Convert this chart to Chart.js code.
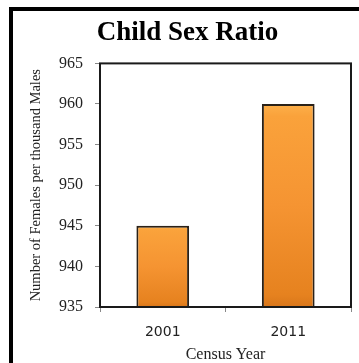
<!DOCTYPE html>
<html>
<head>
<meta charset="utf-8">
<script src="https://cdn.jsdelivr.net/npm/chart.js@4/dist/chart.umd.min.js"></script>
<style>
  html, body { margin: 0; padding: 0; background: #fff; }
  #wrap { position: relative; width: 359px; height: 363px; }
</style>
</head>
<body>
<div id="wrap"><canvas id="c" width="359" height="363"></canvas></div>
<script>
// Census years and child sex ratio (females per thousand males)
const years = ['2001', '2011'];
const ratio = [945, 960];
const yTicks = [935, 940, 945, 950, 955, 960, 965];

const SERIF = '"Liberation Serif", "Times New Roman", serif';
const SANS = '"DejaVu Sans", Verdana, sans-serif';

// Orange bar fill, lighter at each bar's top and darker towards its base
function barFill(ctx) {
  const chart = ctx.chart;
  const y = chart.scales && chart.scales.y;
  if (!chart.chartArea || !y || ctx.parsed == null) return '#F39230';
  const top = y.getPixelForValue(ctx.parsed.y);
  const base = y.getPixelForValue(y.min);
  const g = chart.ctx.createLinearGradient(0, top, 0, base);
  g.addColorStop(0, '#FDB04A');
  g.addColorStop(0.06, '#FAA23B');
  g.addColorStop(0.5, '#F59432');
  g.addColorStop(0.94, '#E6821F');
  g.addColorStop(1, '#D8761A');
  return g;
}

// Black frame around the figure and box around the plot area
const framePlugin = {
  id: 'frame',
  beforeDraw(chart) {
    const c = chart.ctx;
    c.save();
    c.fillStyle = '#fff';
    c.fillRect(0, 0, chart.width, chart.height);
    c.fillStyle = '#000';
    c.fillRect(9, 7, 4, chart.height - 7);
    c.fillRect(9, 7, chart.width - 9, 4);
    c.restore();
  },
  afterDatasetsDraw(chart) {
    const a = chart.chartArea;
    const c = chart.ctx;
    c.save();
    c.strokeStyle = '#1a1a1a';
    c.lineWidth = 2;
    c.strokeRect(a.left, a.top, a.right - a.left, a.bottom - a.top);
    c.restore();
  }
};

new Chart(document.getElementById('c'), {
  type: 'bar',
  data: {
    labels: years,
    datasets: [{
      data: ratio,
      backgroundColor: barFill,
      borderColor: '#2a2118',
      borderWidth: 2,
      borderSkipped: false,
      barPercentage: 0.42,
      categoryPercentage: 1.0
    }]
  },
  options: {
    responsive: false,
    animation: false,
    devicePixelRatio: 1,
    layout: { padding: { left: 24, right: 8, top: 0, bottom: 0 } },
    plugins: {
      legend: { display: false },
      tooltip: { enabled: false },
      title: {
        display: true,
        text: 'Child Sex Ratio',
        color: '#000',
        font: { family: SERIF, size: 27, weight: 'bold' },
        padding: { top: 17, bottom: 14 }
      }
    },
    scales: {
      x: {
        afterFit(scale) { scale.height = 56; },
        grid: { display: true, drawOnChartArea: false, drawTicks: true, tickLength: 5, color: '#888', offset: true },
        border: { display: false },
        ticks: { color: '#222', font: { family: SANS, size: 14 }, padding: 12 },
        title: {
          display: true,
          text: 'Census Year',
          color: '#222',
          font: { family: SERIF, size: 16, lineHeight: 1 },
          padding: { top: 0, bottom: 0 }
        }
      },
      y: {
        min: 935,
        max: 965,
        afterBuildTicks(scale) { scale.ticks = yTicks.map(v => ({ value: v })); },
        afterFit(scale) { scale.width = 76; },
        grid: { display: true, drawOnChartArea: false, drawTicks: true, tickLength: 5, color: '#888' },
        border: { display: false },
        ticks: { color: '#222', font: { family: SERIF, size: 16 }, padding: 12 },
        title: {
          display: true,
          text: 'Number of Females per thousand Males',
          color: '#222',
          font: { family: SERIF, size: 14.5 },
          padding: { top: 3, bottom: 0 }
        }
      }
    }
  },
  plugins: [framePlugin]
});
</script>
</body>
</html>
